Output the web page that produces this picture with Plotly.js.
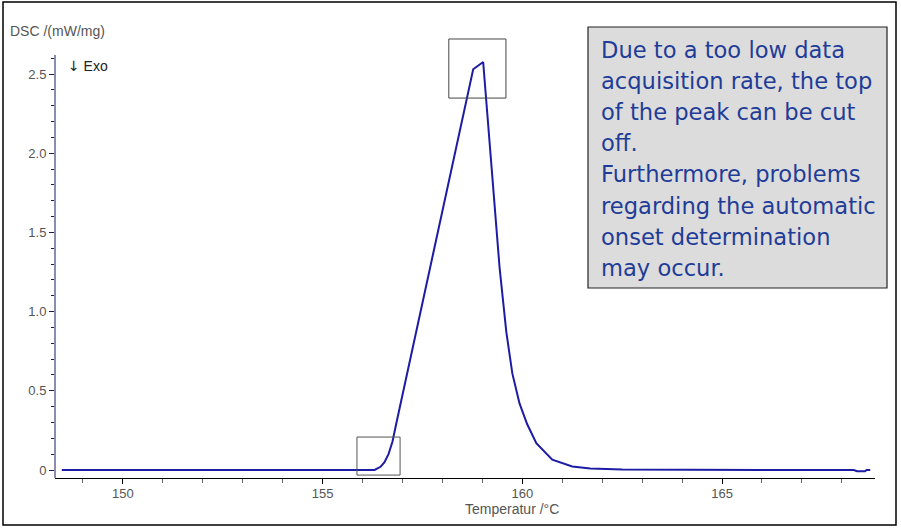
<!DOCTYPE html>
<html>
<head>
<meta charset="utf-8">
<script src="https://cdn.plot.ly/plotly-3.0.1.min.js"></script>
<style>html,body{margin:0;padding:0;background:#fff;}#chart{width:901px;height:529px;}</style>
</head>
<body>
<div id="chart"></div>
<script>
// Temperature (°C) and DSC signal (mW/mg)
const temperature = [148.47, 150, 152, 154, 155, 156, 156.3, 156.45, 156.55, 156.65, 156.75, 156.85, 158.77, 159.02, 159.12, 159.25, 159.43, 159.6, 159.75, 159.93, 160.12, 160.35, 160.75, 161.25, 161.7, 162.5, 164, 166, 168.3, 168.38, 168.58, 168.62, 168.71];
const dsc = [0, 0, 0, 0, 0, 0, 0, 0.02, 0.05, 0.10, 0.18, 0.30, 2.53, 2.576, 2.27, 1.82, 1.28, 0.87, 0.61, 0.42, 0.29, 0.17, 0.065, 0.022, 0.01, 0.003, 0, 0, 0, -0.008, -0.008, 0, 0];

const xTickVals = [150, 155, 160, 165];
const xTickText = ["150", "155", "160", "165"];
const yTickVals = [0, 0.5, 1.0, 1.5, 2.0, 2.5];
const yTickText = ["0", "0.5", "1.0", "1.5", "2.0", "2.5"];

const noteLines = [
  "Due to a too low data",
  "acquisition rate, the top",
  "of the peak can be cut",
  "off.",
  "Furthermore, problems",
  "regarding the automatic",
  "onset determination",
  "may occur."
];

const xRange = [148.30, 168.83];
const yRange = [-0.0505, 2.7525];
const yAxisTop = 2.62;

// plot-area geometry (pixels) used to place paper-referenced text
const L = 55, R = 26, T = 34, B = 51, W = 901, H = 529;
const PW = W - L - R, PH = H - T - B;
const px = x => (x - L) / PW;
const py = y => (H - B - y) / PH;

const yMinor = [];
for (let i = 1; i <= 26; i++) { if (i % 5 !== 0) yMinor.push(+(i * 0.1).toFixed(1)); }
const xMinor = [];
for (let v = 149; v <= 168; v++) { if (v % 5 !== 0) xMinor.push(v); }

const trace = {
  x: temperature, y: dsc, type: 'scatter', mode: 'lines',
  line: {color: '#1c1ca4', width: 2}, hoverinfo: 'skip'
};

const tickFont = {family: 'Liberation Sans, Arial, sans-serif', size: 13, color: '#555'};
const labelFont = {family: 'Liberation Sans, Arial, sans-serif', size: 14, color: '#555'};
const noteFont = {family: 'DejaVu Sans, Verdana, sans-serif', size: 22.6, color: '#1f3c98'};

const annotations = [
  {text: 'DSC /(mW/mg)', xref: 'paper', yref: 'paper', x: px(8), y: py(31), xanchor: 'left', yanchor: 'middle', showarrow: false, font: labelFont},
  {text: '<span style="font-family:DejaVu Sans">↓</span> Exo', xref: 'paper', yref: 'paper', x: px(66), y: py(66), xanchor: 'left', yanchor: 'middle', showarrow: false, font: {family: 'Liberation Sans, Arial, sans-serif', size: 14, color: '#222'}},
  {text: 'Temperatur /°C', xref: 'x', yref: 'paper', x: 159.75, y: py(509), xanchor: 'center', yanchor: 'middle', showarrow: false, font: labelFont}
];
noteLines.forEach((t, i) => {
  annotations.push({text: t, xref: 'paper', yref: 'paper', x: px(599), y: py(50 + i * 31.1), xanchor: 'left', yanchor: 'middle', showarrow: false, font: noteFont});
});

const shapes = [
  // outer frame
  {type: 'rect', xref: 'paper', yref: 'paper', x0: px(3), x1: px(896), y0: py(525), y1: py(2), line: {color: '#000', width: 1.5}, fillcolor: 'rgba(0,0,0,0)'},
  // y axis line
  {type: 'line', xref: 'paper', yref: 'y', x0: 0, x1: 0, y0: yRange[0], y1: yAxisTop, line: {color: '#1a1a5a', width: 1}},
  // highlight boxes
  {type: 'rect', xref: 'x', yref: 'y', x0: 158.16, x1: 159.59, y0: 2.348, y1: 2.721, line: {color: '#444', width: 1}},
  {type: 'rect', xref: 'x', yref: 'y', x0: 155.86, x1: 156.94, y0: -0.032, y1: 0.208, line: {color: '#555', width: 1}},
  // note box
  {type: 'rect', xref: 'paper', yref: 'paper', x0: px(588), x1: px(887), y0: py(288), y1: py(27), line: {color: '#222', width: 1.2}, fillcolor: '#dcdcdc', layer: 'below'}
];

const layout = {
  width: W, height: H,
  margin: {l: L, r: R, t: T, b: B, pad: 0},
  paper_bgcolor: '#fff', plot_bgcolor: 'rgba(0,0,0,0)',
  showlegend: false,
  xaxis: {
    range: xRange, showgrid: false, zeroline: false,
    showline: true, linecolor: '#000', linewidth: 1,
    ticks: 'outside', ticklen: 5, tickcolor: '#000',
    tickmode: 'array', tickvals: xTickVals, ticktext: xTickText,
    tickfont: tickFont, ticklabelstandoff: -2,
    minor: {tickmode: 'array', tickvals: xMinor, ticks: 'outside', ticklen: 4, tickcolor: '#666', showgrid: false}
  },
  yaxis: {
    range: yRange, showgrid: false, zeroline: false,
    showline: false,
    ticks: 'outside', ticklen: 5, tickcolor: '#1a1a5a',
    tickmode: 'array', tickvals: yTickVals, ticktext: yTickText,
    tickfont: tickFont,
    minor: {tickmode: 'array', tickvals: yMinor, ticks: 'outside', ticklen: 3, tickcolor: '#1a1a5a', showgrid: false}
  },
  annotations: annotations,
  shapes: shapes
};

Plotly.newPlot('chart', [trace], layout, {displayModeBar: false, staticPlot: true});
</script>
</body>
</html>
